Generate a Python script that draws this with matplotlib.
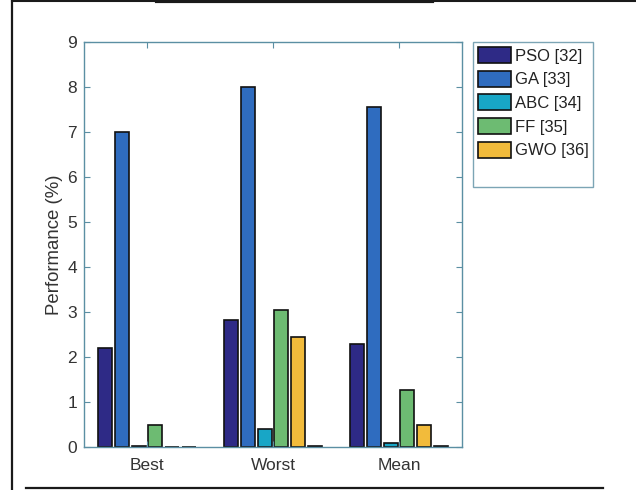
import numpy as np
import matplotlib
matplotlib.use("Agg")
import matplotlib.pyplot as plt
from matplotlib.lines import Line2D
from matplotlib.patches import Rectangle

plt.rcParams['font.family'] = ['Liberation Sans', 'DejaVu Sans']

categories = ["Best", "Worst", "Mean"]
series = ["PSO [32]", "GA [33]", "ABC [34]", "FF [35]", "GWO [36]", "series6"]
pso = [2.2, 2.83, 2.3]
ga = [7.0, 8.0, 7.55]
abc = [0.02, 0.4, 0.1]
ff = [0.5, 3.05, 1.27]
gwo = [0.01, 2.45, 0.5]
series6 = [0.01, 0.02, 0.02]
colors = ["#2e2a86", "#2f6cbf", "#18a6c6", "#6dbb72", "#f2bb3b", "#f5f21a"]

values = [pso, ga, abc, ff, gwo, series6]
axis_col = "#5b8fa3"
text_col = "#333333"

fig = plt.figure(figsize=(6.36, 4.90), dpi=100)
ax = fig.add_axes([84 / 636, 43 / 490, 378 / 636, 405 / 490])

x = np.arange(1, len(categories) + 1)
step = 0.133
width = 0.11
handles = []
for i, (vals, col) in enumerate(zip(values, colors)):
    off = (i - (len(values) - 1) / 2) * step
    b = ax.bar(x + off, vals, width, color=col, edgecolor="#111111", linewidth=1.2)
    handles.append(b)

ax.set_xlim(0.5, 3.5)
ax.set_ylim(0, 9)
ax.set_xticks(x)
ax.set_xticklabels(categories)
ax.set_yticks(range(0, 10))
ax.set_ylabel("Performance (%)", fontsize=13.4, color=text_col, labelpad=3)
ax.tick_params(direction="in", length=4, color=axis_col, top=True, right=True,
               labelsize=12.5, labelcolor=text_col)
ax.tick_params(axis="x", pad=8)
ax.tick_params(axis="y", pad=5)
for sp in ax.spines.values():
    sp.set_color(axis_col)
    sp.set_linewidth(1.0)

# legend: 5 named entries plus an empty slot
blank = Rectangle((0, 0), 1, 1, alpha=0)
leg = fig.legend(handles[:5] + [blank], series[:5] + [""],
                 loc="upper left", bbox_to_anchor=(473 / 636, 1 - 42 / 490),
                 fontsize=12, frameon=True, fancybox=False, borderaxespad=0,
                 handlelength=2.0, handleheight=1.1, handletextpad=0.2,
                 labelspacing=0.42, borderpad=0.3)
leg.get_frame().set_edgecolor(axis_col)
leg.get_frame().set_linewidth(1.0)
for t in leg.get_texts():
    t.set_color("#222222")

# outer page frame
def hline(x0, x1, y, lw):
    fig.add_artist(Line2D([x0 / 636, x1 / 636], [1 - y / 490, 1 - y / 490],
                          color="#1a1a1a", linewidth=lw, transform=fig.transFigure))

fig.add_artist(Line2D([12 / 636, 12 / 636], [0, 1], color="#1a1a1a",
                      linewidth=1.6, transform=fig.transFigure))
hline(12, 636, 1.5, 1.5)
hline(157, 432, 1.5, 3.0)
hline(26, 603, 488, 1.6)

fig.savefig("out.png", dpi=100)
